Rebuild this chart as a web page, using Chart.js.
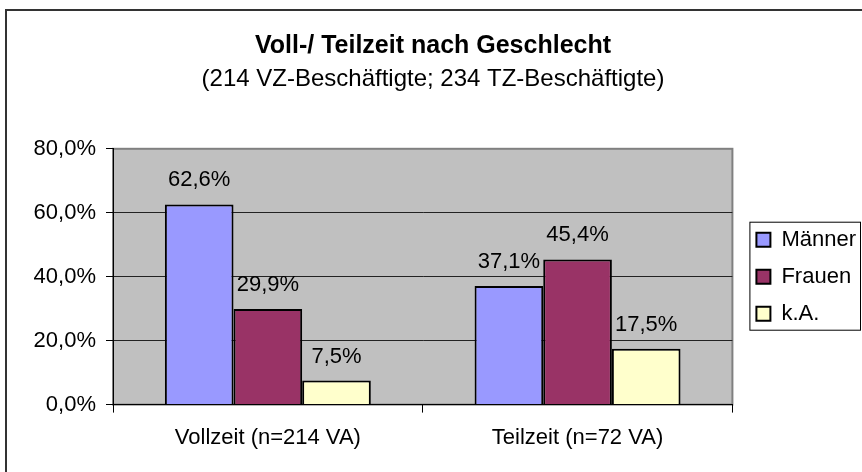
<!DOCTYPE html>
<html>
<head>
<meta charset="utf-8">
<script src="https://cdn.jsdelivr.net/npm/chart.js@4/dist/chart.umd.min.js"></script>
<style>
  html, body { margin: 0; background: #fff; }
  #wrap { width: 862px; height: 472px; position: relative; }
</style>
</head>
<body>
<div id="wrap"><canvas id="chart"></canvas></div>
<script>
const categories = ['Vollzeit (n=214 VA)', 'Teilzeit (n=72 VA)'];
const maenner = [62.6, 37.1];
const frauen = [29.9, 45.4];
const keineAngabe = [7.5, 17.5];
const yTicks = [0, 20, 40, 60, 80];

const FONT = "'Liberation Sans', Arial, sans-serif";
const fmt = v => v.toFixed(1).replace('.', ',') + '%';

// grey plot area + outer frame, like the old Excel chart
const plotBg = {
  id: 'plotBg',
  beforeDraw(chart) {
    const { ctx, chartArea: a } = chart;
    ctx.save();
    ctx.strokeStyle = '#333';
    ctx.lineWidth = 2;
    ctx.strokeRect(6, 10, 900, 500);
    ctx.fillStyle = '#c0c0c0';
    ctx.fillRect(a.left, a.top, a.width, a.height);
    ctx.strokeStyle = '#808080';
    ctx.lineWidth = 2;
    ctx.strokeRect(a.left, a.top, a.width, a.height);
    ctx.restore();
  }
};

// value labels above the bars
const barLabels = {
  id: 'barLabels',
  afterDatasetsDraw(chart) {
    const { ctx } = chart;
    ctx.save();
    ctx.font = '22px ' + FONT;
    ctx.fillStyle = '#000';
    ctx.textAlign = 'center';
    ctx.textBaseline = 'alphabetic';
    chart.data.datasets.forEach((ds, i) => {
      chart.getDatasetMeta(i).data.forEach((bar, j) => {
        ctx.fillText(fmt(ds.data[j]), bar.x, bar.y - 18);
      });
    });
    ctx.restore();
  }
};

// box around the legend
const legendBox = {
  id: 'legendBox',
  afterDraw(chart) {
    const hb = chart.legend.legendHitBoxes;
    if (!hb || !hb.length) return;
    const { ctx } = chart;
    const left = hb[0].left - 7;
    const top = hb[0].top - 7;
    const last = hb[hb.length - 1];
    const bottom = last.top + last.height + 5;
    ctx.save();
    ctx.strokeStyle = '#000';
    ctx.lineWidth = 1;
    ctx.strokeRect(left + 0.5, top + 0.5, chart.width - 2 - left, bottom - top);
    ctx.restore();
  }
};

new Chart(document.getElementById('chart'), {
  type: 'bar',
  data: {
    labels: categories,
    datasets: [
      { label: 'Männer', data: maenner, backgroundColor: '#9999ff' },
      { label: 'Frauen', data: frauen, backgroundColor: '#993366' },
      { label: 'k.A.', data: keineAngabe, backgroundColor: '#ffffcc' }
    ]
  },
  options: {
    responsive: true,
    maintainAspectRatio: false,
    animation: false,
    devicePixelRatio: 1,
    layout: { padding: { top: 0, right: -4, bottom: 9, left: 0 } },
    datasets: {
      bar: {
        borderColor: '#000',
        borderWidth: 2,
        borderSkipped: 'start',
        categoryPercentage: 0.665,
        barPercentage: 1
      }
    },
    scales: {
      x: {
        grid: { display: true, drawOnChartArea: false, offset: true, tickLength: 8, color: '#000' },
        border: { color: '#000', width: 1 },
        ticks: { color: '#000', padding: 12, font: { family: FONT, size: 22 } }
      },
      y: {
        min: 0,
        max: 80,
        afterBuildTicks: s => { s.ticks = yTicks.map(v => ({ value: v })); },
        afterFit: s => { s.width = 113; },
        grid: {
          color: c => (c.tick && c.tick.value === 80 ? '#808080' : '#222'),
          tickColor: '#000',
          tickLength: 7,
          lineWidth: 1
        },
        border: { color: '#000', width: 1 },
        ticks: { color: '#000', padding: 10, font: { family: FONT, size: 22 }, callback: v => fmt(v) }
      },
      pad: {
        position: 'right',
        grid: { display: false },
        border: { display: false },
        ticks: { display: false },
        afterFit: s => { s.width = 9; }
      }
    },
    plugins: {
      title: {
        display: true,
        text: 'Voll-/ Teilzeit nach Geschlecht',
        color: '#000',
        font: { family: FONT, size: 25, weight: 'bold' },
        padding: { top: 31, bottom: 4 }
      },
      subtitle: {
        display: true,
        text: '(214 VZ-Beschäftigte; 234 TZ-Beschäftigte)',
        color: '#000',
        font: { family: FONT, size: 24 },
        padding: { top: 0, bottom: 55 }
      },
      legend: {
        position: 'right',
        fullSize: false,
        labels: {
          color: '#000',
          boxWidth: 14,
          boxHeight: 14,
          padding: 15,
          font: { family: FONT, size: 22 }
        }
      },
      tooltip: { enabled: false }
    }
  },
  plugins: [plotBg, barLabels, legendBox]
});
</script>
</body>
</html>
